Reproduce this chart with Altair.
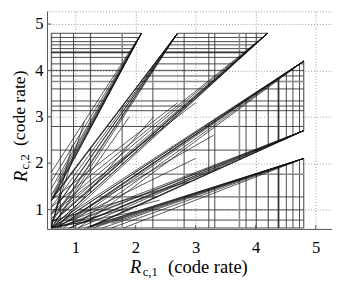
import altair as alt
import pandas as pd

# ---------------- data ----------------
X_TICKS = [1, 2, 3, 4, 5]
Y_TICKS = [1, 2, 3, 4, 5]
X_DOMAIN = [0.529, 5.27]
Y_DOMAIN = [0.579, 5.274]

REGION_MIN = 0.6
REGION_MAX = 4.8

# white wedges cut out of the grey square (polygon vertices)
WEDGE_X = [[0.62, 2.1, 2.7], [0.6, 4.2, 4.8, 4.8], [1.26, 4.8, 4.8]]
WEDGE_Y = [[1.26, 4.8, 4.8], [0.6, 4.8, 4.8, 4.2], [0.62, 2.7, 2.1]]

# vertical / horizontal constraint lines
V_LINES = [0.6, 0.75, 0.97, 1.25, 2.29, 2.81, 3.22, 3.32, 3.84, 4.01, 4.21, 4.51, 4.62, 4.73, 4.8]
V_GRAY = [1.78, 3.73]
V_THICK = [4.38]
H_LINES = [0.6, 0.77, 0.99, 1.27, 2.28, 2.79, 3.13, 3.23, 3.34, 3.60, 3.88, 4.0, 4.14, 4.28,
           4.47, 4.55, 4.62, 4.71, 4.8]
H_GRAY = [1.76, 3.76]
H_THICK = [4.39]

# fan bundles: common far end and several start points
BUNDLE_END_X = [2.1, 2.7, 4.2, 4.8, 4.8, 4.8]
BUNDLE_END_Y = [4.8, 4.8, 4.8, 4.2, 2.7, 2.1]
BUNDLE_START_X = [
    [0.62, 0.6, 0.6, 0.6, 0.6, 0.64, 0.7, 0.6, 0.63],
    [0.62, 0.6, 0.6, 0.6, 0.62, 0.6, 0.7, 0.65, 0.63],
    [0.6, 0.6, 0.6, 0.62, 0.6, 0.7, 0.65, 0.75, 0.61],
    [0.6, 0.7, 0.8, 0.95, 1.05, 0.65, 0.75, 0.9, 0.61],
    [1.26, 1.2, 1.05, 0.9, 0.75, 0.6, 1.1, 0.85, 1.24],
    [1.26, 1.3, 1.45, 1.6, 1.8, 1.35, 1.6, 1.15, 1.24],
]
BUNDLE_START_Y = [
    [1.26, 1.3, 1.45, 1.6, 1.8, 1.35, 1.6, 1.18, 1.24],
    [1.26, 1.2, 1.05, 0.9, 0.75, 0.6, 1.1, 0.85, 1.24],
    [0.6, 0.7, 0.8, 0.95, 1.05, 0.65, 0.75, 0.9, 0.61],
    [0.6, 0.6, 0.6, 0.62, 0.6, 0.7, 0.65, 0.75, 0.61],
    [0.62, 0.6, 0.6, 0.6, 0.62, 0.6, 0.7, 0.65, 0.63],
    [0.62, 0.6, 0.6, 0.6, 0.6, 0.64, 0.7, 0.6, 0.63],
]

# scattered thin segments
SC_X0 = [0.6, 0.6, 0.6, 0.7, 0.6, 0.6, 0.6, 0.65, 0.6, 0.6, 0.6, 0.6, 0.6, 0.9]
SC_Y0 = [0.6, 0.65, 0.6, 0.6, 0.9, 1.2, 0.6, 0.6, 0.75, 0.6, 0.6, 0.62, 0.62, 0.6]
SC_X1 = [0.95, 1.15, 1.9, 2.3, 3.0, 2.7, 3.3, 3.0, 2.9, 2.4, 2.0, 1.3, 0.75, 3.4]
SC_Y1 = [2.4, 2.9, 3.0, 3.0, 3.3, 3.3, 2.6, 2.1, 1.6, 1.2, 0.95, 0.75, 1.3, 1.9]


# ---------------- geometry helpers ----------------
def span(xs, ys, c, axis):
    pts = list(zip(xs, ys))
    vals = []
    n = len(pts)
    for i in range(n):
        (x1, y1), (x2, y2) = pts[i], pts[(i + 1) % n]
        if axis == "x":
            a1, b1, a2, b2 = x1, y1, x2, y2
        else:
            a1, b1, a2, b2 = y1, x1, y2, x2
        if a1 == a2:
            if abs(a1 - c) < 1e-12:
                vals += [b1, b2]
            continue
        if min(a1, a2) <= c <= max(a1, a2):
            vals.append(b1 + (c - a1) * (b2 - b1) / (a2 - a1))
    return (min(vals), max(vals)) if vals else None


def gray_spans(c, axis):
    holes = sorted(s for s in (span(wx, wy, c, axis) for wx, wy in zip(WEDGE_X, WEDGE_Y)) if s)
    out = []
    cur = REGION_MIN
    for lo, hi in holes:
        lo = max(lo, REGION_MIN)
        hi = min(hi, REGION_MAX)
        if lo > cur + 1e-12:
            out.append((cur, lo))
        cur = max(cur, hi)
    if REGION_MAX > cur + 1e-12:
        out.append((cur, REGION_MAX))
    return out


# grey area pieces (trapezoids)
brk = sorted(set([REGION_MIN, REGION_MAX] + [v for xs in WEDGE_X for v in xs]))
area_rows = []
pid = 0
eps = 1e-7
for xa, xb in zip(brk[:-1], brk[1:]):
    sa = gray_spans(xa + eps, "x")
    sb = gray_spans(xb - eps, "x")
    for (la, ha), (lb, hb) in zip(sa, sb):
        area_rows.append({"pid": pid, "x": xa, "lo": la, "hi": ha})
        area_rows.append({"pid": pid, "x": xb, "lo": lb, "hi": hb})
        pid += 1
area_df = pd.DataFrame(area_rows)


def clipped_rules(values, axis):
    rows = []
    for v in values:
        for a, b in gray_spans(v, axis):
            if axis == "x":
                rows.append({"x": v, "y": a, "x2": v, "y2": b})
            else:
                rows.append({"x": a, "y": v, "x2": b, "y2": v})
    return rows


grid_rows = clipped_rules(V_LINES, "x") + clipped_rules(H_LINES, "y")
gray_rows = clipped_rules(V_GRAY, "x") + clipped_rules(H_GRAY, "y")
thick_rows = clipped_rules(V_THICK, "x") + clipped_rules(H_THICK, "y")

seg_rows = []
for ex, ey, sxs, sys_ in zip(BUNDLE_END_X, BUNDLE_END_Y, BUNDLE_START_X, BUNDLE_START_Y):
    for sx, sy in zip(sxs, sys_):
        seg_rows.append({"x": sx, "y": sy, "x2": ex, "y2": ey})
for a, b, c, d in zip(SC_X0, SC_Y0, SC_X1, SC_Y1):
    seg_rows.append({"x": a, "y": b, "x2": c, "y2": d})

# ---------------- encodings ----------------
FONT = "Liberation Serif"


def X(field):
    return alt.X(field, type="quantitative",
                 scale=alt.Scale(domain=X_DOMAIN, nice=False, zero=False),
                 axis=alt.Axis(values=X_TICKS, format="d", grid=True, gridDash=[1, 2],
                               gridColor="#9a9a9a", gridWidth=1, ticks=False, tickSize=0,
                               domainColor="#555", domainWidth=1, labelFont=FONT,
                               labelFontSize=17, labelColor="black", labelPadding=11,
                               title=None))


def Y(field):
    return alt.Y(field, type="quantitative",
                 scale=alt.Scale(domain=Y_DOMAIN, nice=False, zero=False),
                 axis=alt.Axis(values=Y_TICKS, format="d", grid=True, gridDash=[1, 2],
                               gridColor="#9a9a9a", gridWidth=1, ticks=False, tickSize=0,
                               domainColor="#555", domainWidth=1, labelFont=FONT,
                               labelFontSize=17, labelColor="black", labelPadding=4,
                               title=None))


areas = alt.Chart(area_df).mark_area(color="#e5e5e5", stroke="#e5e5e5", strokeWidth=0.5,
                                     interpolate="linear").encode(
    x=X("x"), y=Y("lo"), y2="hi", detail="pid:N", order="x:Q")


def rule_layer(rows, color, width):
    return alt.Chart(pd.DataFrame(rows)).mark_rule(color=color, strokeWidth=width).encode(
        x=X("x"), y=Y("y"), x2="x2", y2="y2")


grid_layer = rule_layer(grid_rows, "#333333", 0.9)
gray_layer = rule_layer(gray_rows, "#8a8a8a", 1.6)
thick_layer = rule_layer(thick_rows, "#333333", 1.8)
seg_layer = rule_layer(seg_rows, "#111111", 0.7)

# inside tick marks
xt = alt.Chart(pd.DataFrame({"v": X_TICKS})).mark_rule(color="#555", strokeWidth=1).encode(
    x=X("v"), y=alt.value(223), y2=alt.value(219))
yt = alt.Chart(pd.DataFrame({"v": Y_TICKS})).mark_rule(color="#555", strokeWidth=1).encode(
    y=Y("v"), x=alt.value(0), x2=alt.value(4))


def txt(s, x, y, size, style="normal", angle=0):
    return alt.Chart(pd.DataFrame({"t": [s]})).mark_text(
        font=FONT, fontSize=size, fontStyle=style, align="left", baseline="alphabetic",
        angle=angle, color="black").encode(x=alt.value(x), y=alt.value(y), text="t:N")


titles = [
    txt("R", 85, 268, 19, "italic"),
    txt("c,1", 98, 271, 13),
    txt("(code rate)", 124, 268, 19),
    txt("R", -21, 175, 19, "italic", 270),
    txt("c,2", -18, 162, 13, "normal", 270),
    txt("(code rate)", -23, 138, 18, "normal", 270),
]

chart = alt.layer(areas, grid_layer, gray_layer, thick_layer, seg_layer, xt, yt, *titles).properties(
    width=292, height=223,
    autosize=alt.AutoSizeParams(type="none"),
    padding={"left": 40, "top": 0, "right": 0, "bottom": 52},
).configure_view(stroke="#9a9a9a", strokeDash=[1, 2])

chart.save("out.html", embed_options={"renderer": "svg", "actions": False})
